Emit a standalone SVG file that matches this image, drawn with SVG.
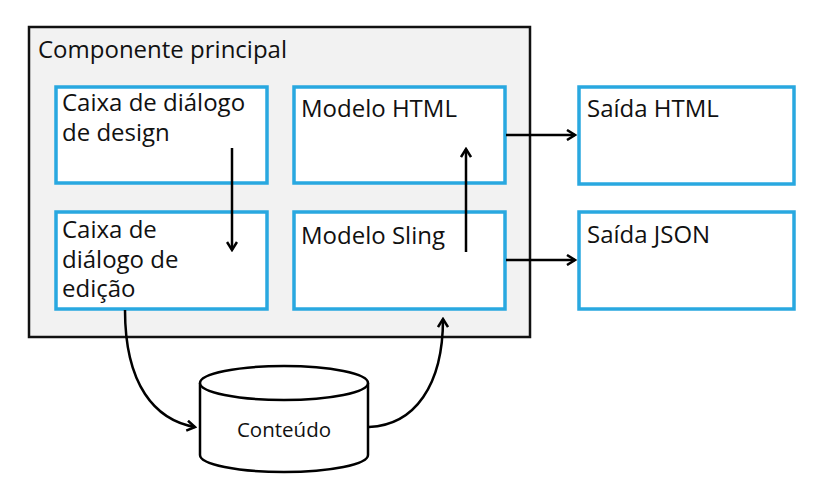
<svg xmlns="http://www.w3.org/2000/svg" width="827" height="494" viewBox="0 0 827 494">
<defs>
<style>
.t{font-family:"Open Sans","Noto Sans","Liberation Sans",sans-serif;fill:#111;font-size:24px;font-weight:500}
.box{fill:#fff;stroke:#29a8e0;stroke-width:3.5}
.ln{fill:none;stroke:#000;stroke-width:2.5}
</style>
<marker id="ah" viewBox="0 0 12 12" refX="10" refY="6" markerWidth="12" markerHeight="12" markerUnits="userSpaceOnUse" orient="auto">
<path d="M2,1 L10,6 L2,11" fill="none" stroke="#000" stroke-width="2.5"/>
</marker>
</defs>
<rect width="827" height="494" fill="#fff"/>
<g id="principal">
<rect x="29" y="27" width="501" height="310" fill="#f2f2f2" stroke="#111" stroke-width="2.5"/>
<text class="t" x="38" y="58">Componente principal</text>
</g>
<g id="design">
<rect class="box" x="56" y="87" width="211" height="96"/>
<text class="t" x="62" y="111">Caixa de diálogo<tspan x="62" dy="30">de design</tspan></text>
</g>
<g id="edicao">
<rect class="box" x="56" y="212" width="211" height="97"/>
<text class="t" x="62" y="238">Caixa de<tspan x="62" dy="29.5">diálogo de</tspan><tspan x="62" dy="29.5">edição</tspan></text>
</g>
<g id="html">
<rect class="box" x="294" y="87" width="211" height="96"/>
<text class="t" x="301" y="117">Modelo HTML</text>
</g>
<g id="sling">
<rect class="box" x="294" y="212" width="211" height="97"/>
<text class="t" x="301" y="244">Modelo Sling</text>
</g>
<g id="saida-html">
<rect class="box" x="579" y="87" width="215" height="97"/>
<text class="t" x="587" y="117">Saída HTML</text>
</g>
<g id="saida-json">
<rect class="box" x="579" y="212" width="215" height="97"/>
<text class="t" x="587" y="243">Saída JSON</text>
</g>
<g id="conteudo">
<path d="M200,383 L200,455 A84,17 0 0 0 368,455 L368,383" fill="#fff" stroke="#000" stroke-width="2.5"/>
<ellipse cx="284" cy="383" rx="84" ry="17" fill="#fff" stroke="#000" stroke-width="2.5"/>
<text class="t" x="284" y="437" text-anchor="middle" style="font-size:20.5px">Conteúdo</text>
</g>
<g id="connectors">
<line class="ln" x1="232" y1="148" x2="232" y2="250" marker-end="url(#ah)"/>
<line class="ln" x1="466" y1="252" x2="466" y2="149" marker-end="url(#ah)"/>
<line class="ln" x1="506" y1="135" x2="575" y2="135" marker-end="url(#ah)"/>
<line class="ln" x1="506" y1="260" x2="575" y2="260" marker-end="url(#ah)"/>
<path class="ln" d="M125,310 C125,385 155,420 195,427" marker-end="url(#ah)"/>
<path class="ln" d="M369,427 C415,425 443,385 443,319" marker-end="url(#ah)"/>
</g>
</svg>
